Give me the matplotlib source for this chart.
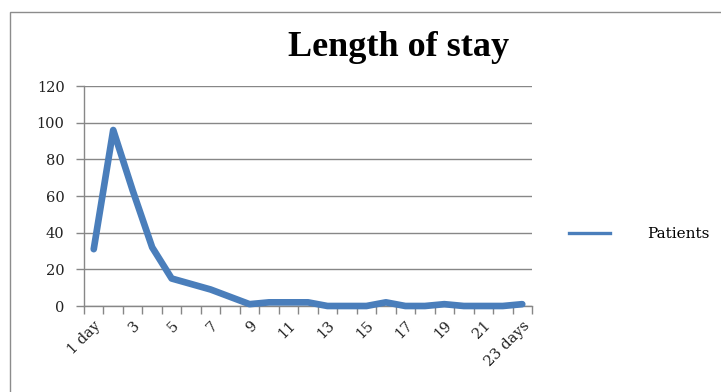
import matplotlib
matplotlib.use("Agg")
import matplotlib.pyplot as plt
from matplotlib.lines import Line2D
from matplotlib.patches import Rectangle
import numpy as np

title = "Length of stay"
series_name = "Patients"
categories = ["1 day"] + [str(i) for i in range(2, 23)] + ["23 days"]
patients = [31, 96, 63, 32, 15, 12, 9, 5, 1, 2, 2, 2, 0, 0, 0, 2, 0, 0, 1, 0, 0, 0, 1]
yticks = [0, 20, 40, 60, 80, 100, 120]

W, H = 721, 392
fig = plt.figure(figsize=(W / 100, H / 100), dpi=100)
serif = ["DejaVu Serif"]
title_font = ["Liberation Serif", "DejaVu Serif"]
plt.rcParams["font.family"] = serif

# outer chart border
fig.patches.append(Rectangle((10 / W, -0.1), 1.2, 1.1 - 12 / H, transform=fig.transFigure,
                             fill=False, edgecolor="#8c8c8c", linewidth=1.0))

ax = fig.add_axes([84 / W, 1 - 306 / H, (532 - 84) / W, (306 - 86) / H])
blue = "#4a7ebb"
grid = "#878787"

x = np.arange(len(categories))
ax.plot(x, patients, color=blue, linewidth=4.8, solid_capstyle="round", solid_joinstyle="round",
        clip_on=False, zorder=3)

ax.set_xlim(-0.5, len(categories) - 0.5)
ax.set_ylim(0, 120)
ax.set_yticks(yticks)
ax.set_yticklabels([str(v) for v in yticks], fontsize=10.5, color="#222222")
ax.yaxis.grid(True, color=grid, linewidth=1.0)
ax.set_axisbelow(True)
ax.tick_params(axis="y", length=6, color=grid, width=1, pad=8)

# labels at odd categories
lab_pos = x[::2]
ax.set_xticks(lab_pos)
ax.set_xticklabels([categories[i] for i in lab_pos], rotation=45, ha="right", va="top",
                   rotation_mode="anchor", fontsize=10.5, color="#222222")
ax.tick_params(axis="x", which="major", length=0, pad=9)
ax.set_xticks(np.arange(-0.5, len(categories)), minor=True)
ax.tick_params(axis="x", which="minor", length=6, color=grid, width=1)

for s in ["top", "right"]:
    ax.spines[s].set_visible(False)
for s in ["left", "bottom"]:
    ax.spines[s].set_color(grid)
    ax.spines[s].set_linewidth(1.0)

fig.text(399 / W, 1 - 47 / H, title, fontsize=26, fontweight="bold", ha="center", va="center",
         family=title_font)

handle = Line2D([0], [0], color=blue, linewidth=2.4)
leg = fig.legend([handle], [series_name], loc="center left", bbox_to_anchor=(555 / W, 1 - 234 / H),
                 frameon=False, fontsize=11, handlelength=2.7, handletextpad=2.4)

fig.savefig("out.png", dpi=100)
